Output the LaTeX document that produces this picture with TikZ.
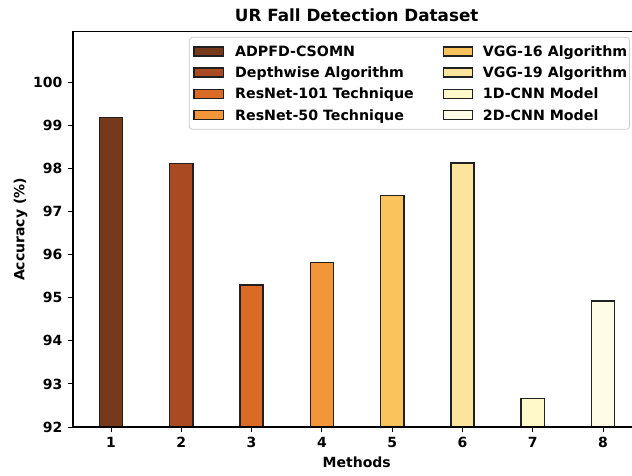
\documentclass[tikz,border=0pt]{standalone}
\usepackage{fontspec}
\setmainfont{DejaVu Sans}
\definecolor{c1}{HTML}{76391C}
\definecolor{c2}{HTML}{AA4A22}
\definecolor{c3}{HTML}{DB6A27}
\definecolor{c4}{HTML}{F3963A}
\definecolor{c5}{HTML}{FBC35C}
\definecolor{c6}{HTML}{FCE49C}
\definecolor{c7}{HTML}{FFF8C8}
\definecolor{c8}{HTML}{FFFCE6}
\definecolor{edgec}{HTML}{202020}
\tikzset{
  barstyle/.style={draw=edgec, line width=1.5pt},
  spine/.style={draw=black, line width=1.1pt},
  tickline/.style={draw=black, line width=1pt},
  ticklab/.style={font=\bfseries\fontsize{14}{14}\selectfont, inner sep=0pt},
  leglab/.style={font=\bfseries\fontsize{14.2}{14}\selectfont, inner sep=0pt, anchor=base west},
  legpatch/.style={draw=edgec, line width=1.5pt},
}
\begin{document}
\begin{tikzpicture}[x=1pt,y=-1pt]
\useasboundingbox[fill=white] (0,0) rectangle (632,475);
% bars, x ticks
\foreach \i/\v/\c in {1/99.18/c1,2/98.11/c2,3/95.29/c3,4/95.82/c4,5/97.37/c5,6/98.13/c6,7/92.66/c7,8/94.92/c8}{
  \pgfmathsetmacro\xc{40.7+70.3*\i}
  \pgfmathsetmacro\yt{427-43.1*(\v-92)}
  \draw[barstyle, fill=\c] (\xc-11.6,427) rectangle (\xc+11.6,\yt);
  \coordinate (xa\i) at (\xc,427);
  \coordinate (xb\i) at (\xc,432);
  \draw[tickline] (xa\i) -- (xb\i);
  \node[ticklab, anchor=base] (xt\i) at (\xc,447) {\i};
}
% y ticks
\foreach \v in {92,...,100}{
  \pgfmathsetmacro\yy{427-43.1*(\v-92)}
  \coordinate (ya\v) at (73,\yy);
  \coordinate (yb\v) at (68,\yy);
  \draw[tickline] (ya\v) -- (yb\v);
  \node[ticklab, anchor=east] (yt\v) at (62.5,\yy) {\v};
}
% spines
\coordinate (tl) at (73,31.7);
\coordinate (bl) at (73,427);
\coordinate (br) at (633,427);
\coordinate (tr) at (633,31.7);
\draw[spine] (tr) -- (tl) -- (bl) -- (br);
% labels
\node[font=\bfseries\fontsize{16.8}{17}\selectfont, anchor=base, inner sep=0pt] (title) at (356.7,21.7) {UR Fall Detection Dataset};
\node[font=\bfseries\fontsize{14}{14}\selectfont, anchor=base, inner sep=0pt] (xlab) at (356.7,467.5) {Methods};
\node[font=\bfseries\fontsize{14}{14}\selectfont, anchor=base, inner sep=0pt, rotate=90] (ylab) at (24.3,229.5) {Accuracy (\%)};
% legend
\draw[draw=black!20, fill=white, fill opacity=0.8, rounded corners=3pt, line width=0.8pt] (189.3,37.3) rectangle (629.5,129.3);
\foreach \j/\t/\c in {0/ADPFD-CSOMN/c1,1/Depthwise Algorithm/c2,2/ResNet-101 Technique/c3,3/ResNet-50 Technique/c4}{
  \pgfmathsetmacro\yc{51.3+21.3*\j}
  \draw[legpatch, fill=\c] (194,\yc-4.5) rectangle (223.3,\yc+4.5);
  \node[leglab] (la\j) at (235,\yc+5) {\t};
}
\foreach \j/\t/\c in {0/VGG-16 Algorithm/c5,1/VGG-19 Algorithm/c6,2/1D-CNN Model/c7,3/2D-CNN Model/c8}{
  \pgfmathsetmacro\yc{51.3+21.3*\j}
  \draw[legpatch, fill=\c] (443.3,\yc-4.5) rectangle (472.7,\yc+4.5);
  \node[leglab] (lb\j) at (482.7,\yc+5) {\t};
}
\end{tikzpicture}
\end{document}
